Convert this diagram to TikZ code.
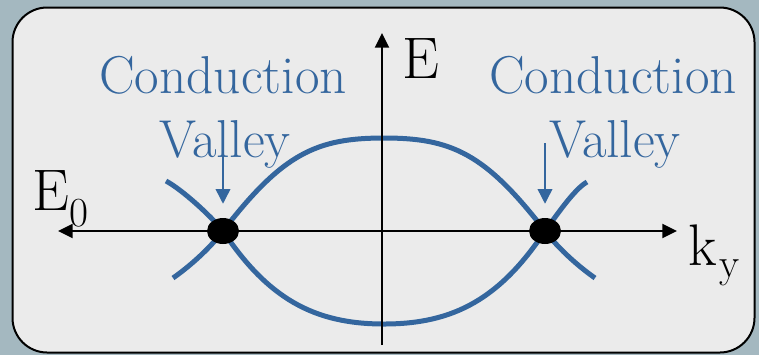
\documentclass[tikz,border=0pt]{standalone}
\usepackage{fontspec}
\usetikzlibrary{arrows.meta,shapes.geometric}
\definecolor{bgout}{RGB}{164,184,192}
\definecolor{panel}{RGB}{235,235,235}
\definecolor{valblue}{RGB}{52,102,158}
\begin{document}
\begin{tikzpicture}[x=0.75pt,y=-0.75pt,
  blabel/.style={text=valblue, font=\rmfamily\fontsize{40}{40}\selectfont, inner sep=0pt, anchor=base},
  axlabel/.style={text=black, font=\rmfamily\fontsize{44}{44}\selectfont, inner sep=0pt, anchor=base west},
  sublabel/.style={text=black, font=\rmfamily\fontsize{31}{31}\selectfont, inner sep=0pt, anchor=base west},
  axisline/.style={draw=black, line width=1.5pt},
  axtip/.style={-{Triangle[length=11pt,width=10.5pt]}},
  band/.style={draw=valblue, line width=3.75pt},
  vArrow/.style={draw=valblue, line width=1.1pt, -{Triangle[length=11pt,width=11pt]}},
  valleydot/.style={shape=ellipse, fill=black, draw=none, minimum width=24pt, minimum height=19.5pt, inner sep=0pt}
]
\useasboundingbox (0,0) rectangle (759,355);
\fill[bgout] (0,0) rectangle (759,355);
\draw[fill=panel, draw=black, line width=1.5pt, rounded corners=26pt] (12.5,7.5) rectangle (754.5,352.5);

% dot centres
\coordinate (L) at (223,231);
\coordinate (R) at (545,231);

% upper band (cap shape)
\draw[band] (173,278) .. controls (188,267.5) and (208,250.5) .. (L)
  .. controls (283,153) and (317,138) .. (384,138)
  .. controls (451,138) and (485,153) .. (R)
  .. controls (560,250.5) and (580,267.5) .. (595,278);
% lower band (cup shape)
\draw[band] (166,181) .. controls (182,189.5) and (211,216) .. (L)
  .. controls (268,298.5) and (314,324) .. (384,324)
  .. controls (454,324) and (500,298.5) .. (R)
  .. controls (554,219) and (574,189) .. (587,182);

% axes
\coordinate (xl) at (58,231);
\coordinate (xr) at (677,231);
\coordinate (yb) at (382,345);
\coordinate (yt) at (382,33);
\draw[axisline, {Triangle[length=11pt,width=10.5pt]}-{Triangle[length=11pt,width=10.5pt]}] (xl) -- (xr);
\draw[axisline, axtip] (yb) -- (yt);

% dots
\node[valleydot] (ldot) at (L) {};
\node[valleydot] (rdot) at (R) {};

% labels
\node[blabel] (lcond) at (223,93) {Conduction};
\node[blabel] (rcond) at (613,93) {Conduction};
\node[blabel] (lval) at (225,157) {Valley};
\node[blabel] (rval) at (615,157) {Valley};

\coordinate (la0) at (223,156);
\coordinate (ra0) at (545,143);
\draw[vArrow] (la0) -- ([yshift=10.5pt]ldot.north);
\draw[vArrow] (ra0) -- ([yshift=10.5pt]rdot.north);

\node[axlabel] (elab) at (402,78) {E};
\node[axlabel] (e0) at (32,210) {E};
\node[sublabel] (e0s) at (69,226) {0};
\node[axlabel] (klab) at (688,265) {k};
\node[sublabel] (kys) at (719,277) {y};
\end{tikzpicture}
\end{document}
